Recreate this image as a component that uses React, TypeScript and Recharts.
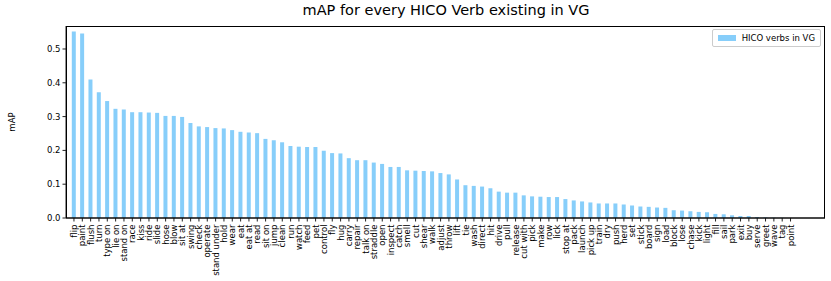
import React from 'react';
import { BarChart, Bar, XAxis, YAxis } from 'recharts';

const verbs = [
  'flip', 'paint', 'flush', 'turn', 'type on', 'lie on', 'stand on', 'race', 'kiss', 'ride',
  'slide', 'hose', 'blow', 'sit at', 'swing', 'check', 'operate', 'stand under', 'hold', 'wear',
  'eat', 'eat at', 'read', 'sit on', 'jump', 'clean', 'run', 'watch', 'feed', 'pet',
  'control', 'fly', 'hug', 'carry', 'repair', 'talk on', 'straddle', 'open', 'inspect', 'catch',
  'smell', 'cut', 'shear', 'walk', 'adjust', 'throw', 'lift', 'tie', 'wash', 'direct',
  'hit', 'drive', 'pull', 'release', 'cut with', 'pick', 'make', 'row', 'lick', 'stop at',
  'pack', 'launch', 'pick up', 'train', 'dry', 'push', 'herd', 'set', 'stick', 'board',
  'sign', 'load', 'block', 'lose', 'chase', 'kick', 'light', 'fill', 'sail', 'park',
  'exit', 'buy', 'serve', 'greet', 'wave', 'tag', 'point',
];

const mapValues = [
  0.552, 0.546, 0.410, 0.372, 0.346, 0.323, 0.321, 0.313, 0.313, 0.312,
  0.311, 0.302, 0.302, 0.299, 0.281, 0.271, 0.269, 0.266, 0.265, 0.260,
  0.255, 0.253, 0.251, 0.234, 0.230, 0.224, 0.213, 0.211, 0.210, 0.210,
  0.199, 0.192, 0.191, 0.177, 0.171, 0.171, 0.164, 0.160, 0.151, 0.151,
  0.141, 0.140, 0.139, 0.138, 0.133, 0.129, 0.114, 0.097, 0.095, 0.093,
  0.088, 0.078, 0.075, 0.075, 0.067, 0.064, 0.063, 0.062, 0.062, 0.056,
  0.052, 0.049, 0.046, 0.043, 0.043, 0.043, 0.040, 0.037, 0.034, 0.033,
  0.031, 0.030, 0.023, 0.022, 0.020, 0.018, 0.017, 0.012, 0.011, 0.008,
  0.006, 0.006, 0.003, 0.002, 0.001, 0.0005, 0,
];

const yTicks = [0, 0.1, 0.2, 0.3, 0.4, 0.5];

const data = verbs.map((verb, i) => ({ verb, mAP: mapValues[i] }));

const FONT = '"DejaVu Sans", sans-serif';
const AXIS = '#222';

function VerbTick({ x, y, payload }: any) {
  return (
    <g transform={`translate(${x},${y})`}>
      <text
        transform="rotate(-90)"
        x={-1}
        y={0}
        dy="0.35em"
        textAnchor="end"
        fontSize={8.5}
        fontFamily={FONT}
        fill="#000"
      >
        {payload.value}
      </text>
    </g>
  );
}

// legend drawn as an overlay so it doesn't take space from the plot area
function LegendBox() {
  return (
    <div
      style={{
        position: 'absolute',
        top: 29,
        right: 10,
        display: 'flex',
        alignItems: 'center',
        border: '1px solid #ccc',
        borderRadius: 2,
        background: '#fff',
        padding: '3px 5px',
        fontFamily: FONT,
        fontSize: 8.5,
        color: '#000',
      }}
    >
      <span style={{ width: 18, height: 6, background: '#87CEFA', marginRight: 6 }} />
      <span>HICO verbs in VG</span>
    </div>
  );
}

export default function App() {
  return (
    <div style={{ position: 'absolute', left: 0, top: 0, width: 831, height: 281, background: '#fff' }}>
      <div
        style={{
          position: 'absolute',
          left: 66,
          width: 760,
          top: 2,
          textAlign: 'center',
          fontFamily: FONT,
          fontSize: 14.5,
          color: '#000',
        }}
      >
        mAP for every HICO Verb existing in VG
      </div>
      <BarChart
        width={831}
        height={281}
        data={data}
        margin={{ top: 26, right: 6, left: 0, bottom: 0 }}
      >
        <XAxis
          dataKey="verb"
          interval={0}
          height={63}
          tick={<VerbTick />}
          tickSize={3.5}
          tickLine={{ stroke: AXIS }}
          axisLine={{ stroke: AXIS }}
          padding={{ left: 3.8, right: 30.3 }}
        />
        <YAxis
          width={66}
          domain={[0, 0.568]}
          allowDataOverflow
          ticks={yTicks}
          tickFormatter={(v: number) => v.toFixed(1)}
          tickSize={3.5}
          tickLine={{ stroke: AXIS }}
          axisLine={{ stroke: AXIS }}
          tick={{ fontSize: 8.5, fontFamily: FONT, fill: '#000' }}
          label={{
            value: 'mAP',
            angle: -90,
            position: 'insideLeft',
            offset: 12,
            style: { fontSize: 8.5, fontFamily: FONT, fill: '#000', textAnchor: 'middle' },
          }}
        />
        <Bar
          dataKey="mAP"
          name="HICO verbs in VG"
          fill="#87CEFA"
          barSize={4}
          isAnimationActive={false}
        />
      </BarChart>
      <LegendBox />
      {/* axes frame (matplotlib-style box) */}
      <svg
        width={831}
        height={281}
        style={{ position: 'absolute', left: 0, top: 0, pointerEvents: 'none' }}
      >
        <rect x={66.5} y={26.5} width={758} height={191.5} fill="none" stroke="#000" strokeWidth={1} />
        <line x1={824.5} y1={26} x2={824.5} y2={218} stroke="#000" strokeWidth={1} />
      </svg>
    </div>
  );
}
